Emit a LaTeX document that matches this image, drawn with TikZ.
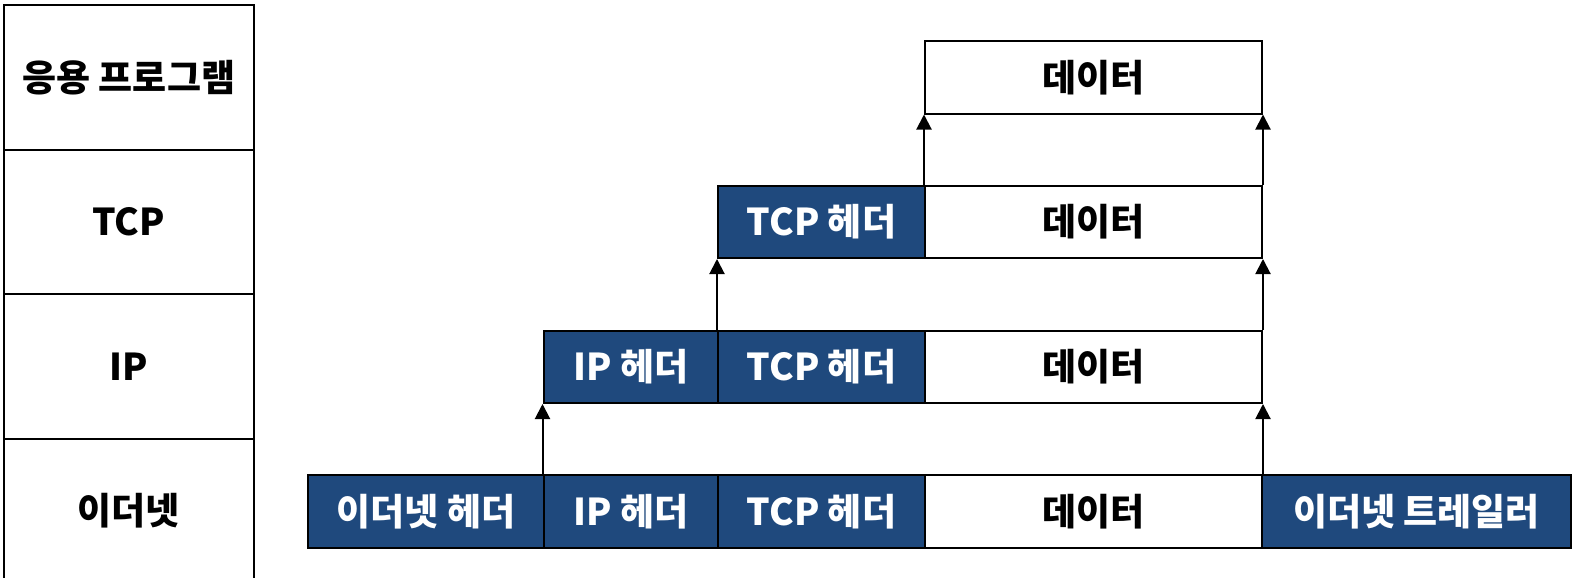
\documentclass[tikz,border=0pt]{standalone}
\usepackage{fontspec}
\newfontfamily\kr{Noto Sans CJK KR}
\usetikzlibrary{arrows.meta}
\definecolor{hdrblue}{RGB}{31,73,125}
\begin{document}
\begin{tikzpicture}[x=1pt,y=-1pt,
  cell/.style={draw=black,line width=2pt,inner sep=0pt,anchor=north west,
    minimum height=72.5pt,font=\kr\bfseries\fontsize{37}{42}\selectfont},
  hdr/.style={cell,fill=hdrblue,text=white},
  dat/.style={cell,fill=white,text=black},
  layer/.style={draw=black,line width=2pt,inner sep=0pt,anchor=north west,
    minimum width=249.5pt,minimum height=144.5pt,font=\kr\bfseries\fontsize{37}{42}\selectfont},
  up/.style={line width=2pt,-{Triangle[width=15pt,length=15pt]}}]
\useasboundingbox (0,0) rectangle (1575,578);
% layer column
\node[layer] (lapp) at (3,4) {응용 프로그램};
\node[layer] (ltcp) at (3,148.5) {TCP};
\node[layer] (lip) at (3,293) {IP};
\node[layer] (leth) at (3,437.5) {이더넷};
% application row
\node[dat,minimum width=337pt] (dA) at (924,40) {데이터};
% TCP row
\node[hdr,minimum width=207pt] (tT) at (717,184.5) {TCP 헤더};
\node[dat,minimum width=337pt] (dT) at (924,184.5) {데이터};
% IP row
\node[hdr,minimum width=174.5pt] (iI) at (542.5,329.5) {IP 헤더};
\node[hdr,minimum width=207pt] (tI) at (717,329.5) {TCP 헤더};
\node[dat,minimum width=337pt] (dI) at (924,329.5) {데이터};
% Ethernet row
\node[hdr,minimum width=235.5pt] (eE) at (307,474) {이더넷 헤더};
\node[hdr,minimum width=174.5pt] (iE) at (542.5,474) {IP 헤더};
\node[hdr,minimum width=207pt] (tE) at (717,474) {TCP 헤더};
\node[dat,minimum width=337pt] (dE) at (924,474) {데이터};
\node[hdr,minimum width=309pt] (trE) at (1261,474) {이더넷 트레일러};
% arrows
\draw[up] (iE.north west) -- (iI.south west);
\draw[up] (dE.north east) -- (dI.south east);
\draw[up] (tI.north west) -- (tT.south west);
\draw[up] (dI.north east) -- (dT.south east);
\draw[up] (dT.north west) -- (dA.south west);
\draw[up] (dT.north east) -- (dA.south east);
\end{tikzpicture}
\end{document}
